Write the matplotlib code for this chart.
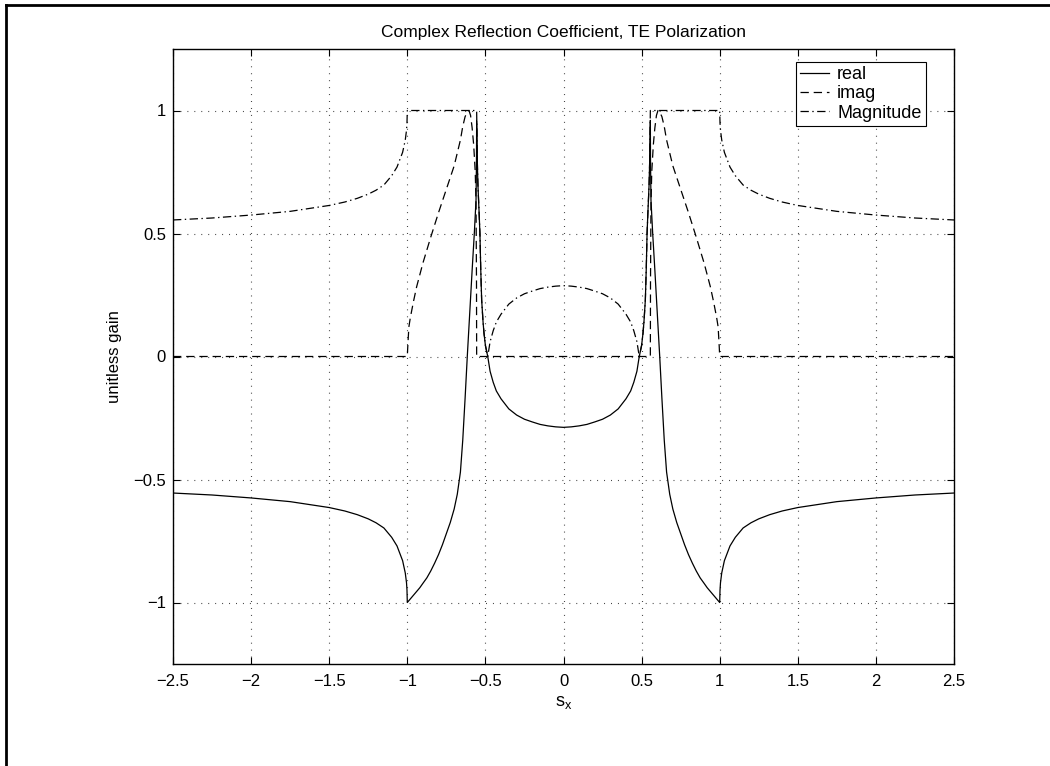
import matplotlib
matplotlib.use("Agg")
import matplotlib.pyplot as plt
from matplotlib.lines import Line2D

plt.rcParams["font.family"] = ["Liberation Sans", "DejaVu Sans"]
plt.rcParams["mathtext.fontset"] = "custom"
plt.rcParams["mathtext.rm"] = "Liberation Sans"
plt.rcParams["mathtext.it"] = "Liberation Sans"
plt.rcParams["lines.scale_dashes"] = False

# czesc rzeczywista
x_real = [-2.5, -2.25, -2.0, -1.75, -1.5, -1.4, -1.32, -1.25, -1.2, -1.15, -1.1, -1.066,
          -1.03, -1.013, -1.005, -1.002, -1.0, -0.98, -0.96, -0.94, -0.92, -0.9, -0.875,
          -0.85, -0.825, -0.8, -0.775, -0.75, -0.725, -0.7, -0.68, -0.66, -0.645, -0.63,
          -0.616, -0.6, -0.585, -0.571, -0.56, -0.557, -0.556, -0.552, -0.548, -0.54,
          -0.535, -0.53, -0.524, -0.515, -0.509, -0.5, -0.485, -0.47, -0.45, -0.43,
          -0.4, -0.35, -0.3, -0.25, -0.2, -0.15, -0.1, -0.05, 0.0,
          0.05, 0.1, 0.15, 0.2, 0.25, 0.3, 0.35, 0.4, 0.43, 0.45, 0.47, 0.485, 0.5,
          0.509, 0.515, 0.524, 0.53, 0.535, 0.54, 0.548, 0.552, 0.556, 0.557, 0.56,
          0.571, 0.585, 0.6, 0.616, 0.63, 0.645, 0.66, 0.68, 0.7, 0.725, 0.75, 0.775,
          0.8, 0.825, 0.85, 0.875, 0.9, 0.92, 0.94, 0.96, 0.98, 1.0, 1.002, 1.005,
          1.013, 1.03, 1.066, 1.1, 1.15, 1.2, 1.25, 1.32, 1.4, 1.5, 1.75, 2.0, 2.25, 2.5]
y_real = [-0.555, -0.563, -0.575, -0.59, -0.614, -0.628, -0.643, -0.66, -0.676, -0.697,
          -0.735, -0.77, -0.83, -0.88, -0.92, -0.95, -1.0, -0.985, -0.97, -0.955, -0.94,
          -0.922, -0.9, -0.872, -0.84, -0.805, -0.765, -0.72, -0.675, -0.62, -0.56,
          -0.47, -0.34, -0.17, 0.0, 0.18, 0.35, 0.5, 0.636, 0.8, 0.96, 0.8, 0.7, 0.58,
          0.5, 0.36, 0.23, 0.14, 0.095, 0.045, 0.0, -0.06, -0.105, -0.14, -0.172,
          -0.213, -0.238, -0.255, -0.266, -0.276, -0.282, -0.286, -0.288,
          -0.286, -0.282, -0.276, -0.266, -0.255, -0.238, -0.213, -0.172, -0.14, -0.105,
          -0.06, 0.0, 0.045, 0.095, 0.14, 0.23, 0.36, 0.5, 0.58, 0.7, 0.8, 0.96, 0.8,
          0.636, 0.5, 0.35, 0.18, 0.0, -0.17, -0.34, -0.47, -0.56, -0.62, -0.675, -0.72,
          -0.765, -0.805, -0.84, -0.872, -0.9, -0.922, -0.94, -0.955, -0.97, -0.985,
          -1.0, -0.95, -0.92, -0.88, -0.83, -0.77, -0.735, -0.697, -0.676, -0.66,
          -0.643, -0.628, -0.614, -0.59, -0.575, -0.563, -0.555]

# czesc urojona
x_imag = [-2.5, -1.0, -0.997, -0.99, -0.98, -0.96, -0.94, -0.9, -0.85, -0.8, -0.75, -0.7,
          -0.66, -0.645, -0.63, -0.615, -0.605, -0.595, -0.585, -0.575, -0.565, -0.56,
          -0.557, -0.556,
          0.556, 0.557, 0.56, 0.565, 0.575, 0.585, 0.595, 0.605, 0.615, 0.63, 0.645,
          0.66, 0.7, 0.75, 0.8, 0.85, 0.9, 0.94, 0.96, 0.98, 0.99, 0.997, 1.0, 2.5]
y_imag = [0.0, 0.0, 0.04, 0.12, 0.16, 0.225, 0.284, 0.38, 0.485, 0.585, 0.68, 0.775,
          0.88, 0.935, 0.975, 0.995, 1.0, 0.98, 0.93, 0.86, 0.75, 0.62, 0.3, 0.0,
          0.0, 0.3, 0.62, 0.75, 0.86, 0.93, 0.98, 1.0, 0.995, 0.975, 0.935,
          0.88, 0.775, 0.68, 0.585, 0.485, 0.38, 0.284, 0.225, 0.16, 0.12, 0.04, 0.0,
          0.0]

# modul
x_mag = [-2.5, -2.25, -2.0, -1.75, -1.5, -1.4, -1.32, -1.25, -1.2, -1.15, -1.1, -1.066,
         -1.03, -1.013, -1.005, -1.002, -1.0, -0.556, -0.552, -0.548, -0.54, -0.535,
         -0.53, -0.524, -0.515, -0.509, -0.5, -0.485, -0.47, -0.45, -0.43, -0.4, -0.35,
         -0.3, -0.25, -0.2, -0.15, -0.1, -0.05, 0.0,
         0.05, 0.1, 0.15, 0.2, 0.25, 0.3, 0.35, 0.4, 0.43, 0.45, 0.47, 0.485, 0.5,
         0.509, 0.515, 0.524, 0.53, 0.535, 0.54, 0.548, 0.552, 0.556, 1.0, 1.002, 1.005,
         1.013, 1.03, 1.066, 1.1, 1.15, 1.2, 1.25, 1.32, 1.4, 1.5, 1.75, 2.0, 2.25, 2.5]
y_mag = [0.555, 0.563, 0.575, 0.59, 0.614, 0.628, 0.643, 0.66, 0.676, 0.697, 0.735, 0.77,
         0.83, 0.88, 0.92, 0.95, 1.0, 1.0, 0.8, 0.7, 0.58, 0.5, 0.36, 0.23, 0.14, 0.095,
         0.045, 0.0, 0.06, 0.105, 0.14, 0.172, 0.213, 0.238, 0.255, 0.266, 0.276, 0.282,
         0.286, 0.288,
         0.286, 0.282, 0.276, 0.266, 0.255, 0.238, 0.213, 0.172, 0.14, 0.105, 0.06, 0.0,
         0.045, 0.095, 0.14, 0.23, 0.36, 0.5, 0.58, 0.7, 0.8, 1.0, 1.0, 0.95, 0.92,
         0.88, 0.83, 0.77, 0.735, 0.697, 0.676, 0.66, 0.643, 0.628, 0.614, 0.59, 0.575,
         0.563, 0.555]

x_ticks = [-2.5, -2, -1.5, -1, -0.5, 0, 0.5, 1, 1.5, 2, 2.5]
x_tick_labels = ["\u22122.5", "\u22122", "\u22121.5", "\u22121", "\u22120.5", "0",
                 "0.5", "1", "1.5", "2", "2.5"]
y_ticks = [-1, -0.5, 0, 0.5, 1]
y_tick_labels = ["\u22121", "\u22120.5", "0", "0.5", "1"]

fig = plt.figure(figsize=(10.5, 7.66), dpi=100)
ax = fig.add_axes([173 / 1050, 1 - 664 / 766, 781 / 1050, 615 / 766])

lw = 0.9
ax.plot(x_real, y_real, color="black", lw=lw, label="real")
ax.plot(x_imag, y_imag, color="black", lw=lw, dashes=(6, 3.5), label="imag")
ax.plot(x_mag, y_mag, color="black", lw=lw, dashes=(6, 2.5, 1, 2.5), label="Magnitude")

ax.set_xlim(-2.5, 2.5)
ax.set_ylim(-1.25, 1.25)
ax.set_xticks(x_ticks)
ax.set_xticklabels(x_tick_labels)
ax.set_yticks(y_ticks)
ax.set_yticklabels(y_tick_labels)
ax.tick_params(direction="in", length=5, width=0.8, top=True, right=True,
               labelsize=12, pad=7)
ax.tick_params(axis="y", pad=5)
for s in ax.spines.values():
    s.set_linewidth(1.0)

ax.grid(True, color="0.25", lw=0.8, dashes=(0.7, 4.3))

ax.set_title("Complex Reflection Coefficient, TE Polarization", fontsize=12.5, pad=9)
ax.set_xlabel("$\\mathregular{s_x}$", fontsize=13, labelpad=4)
ax.set_ylabel("unitless gain", fontsize=12, labelpad=8)

leg = ax.legend(loc="upper right", bbox_to_anchor=(926 / 1050, 1 - 61.7 / 766),
                bbox_transform=fig.transFigure, fancybox=False, framealpha=1,
                edgecolor="black", fontsize=13, handlelength=1.6, handletextpad=0.45,
                labelspacing=0.12, borderpad=0.25, borderaxespad=0)
leg.get_frame().set_linewidth(0.8)

# ramka okna
fig.add_artist(Line2D([6 / 1050, 1], [1 - 5 / 766, 1 - 5 / 766], color="black", lw=2,
                      transform=fig.transFigure))
fig.add_artist(Line2D([6 / 1050, 6 / 1050], [0, 1 - 5 / 766], color="black", lw=2,
                      transform=fig.transFigure))

fig.savefig("out.png", dpi=100)
